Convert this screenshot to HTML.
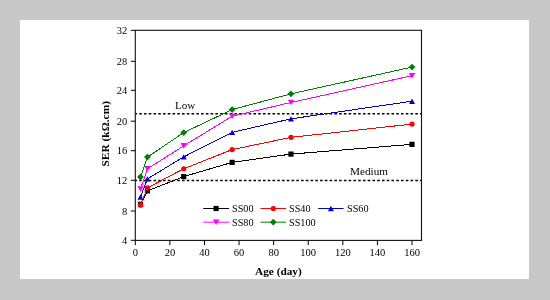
<!DOCTYPE html>
<html><head><meta charset="utf-8"><style>
html,body{margin:0;padding:0;background:#c8c8c8;width:550px;height:300px;overflow:hidden}
svg{display:block;will-change:transform}
text{font-family:"Liberation Serif",serif;fill:#000}
</style></head><body>
<svg width="550" height="300" viewBox="0 0 550 300">
<rect x="0" y="0" width="550" height="300" fill="#c8c8c8"/>
<rect x="20" y="20" width="509" height="259" fill="#ffffff"/>
<line x1="135.3" y1="113.70" x2="421.5" y2="113.70" stroke="#000" stroke-width="1.4" stroke-dasharray="2.6 2.16" stroke-dashoffset="0.87"/>
<line x1="135.3" y1="180.50" x2="421.5" y2="180.50" stroke="#000" stroke-width="1.4" stroke-dasharray="2.6 2.16" stroke-dashoffset="0.87"/>
<polyline points="140.49,204.31 147.41,190.87 183.72,176.62 232.15,162.36 290.95,154.10 412.00,144.35" fill="none" stroke="#000000" stroke-width="1.0" shape-rendering="crispEdges"/>
<rect x="137.89" y="201.71" width="5.20" height="5.20" fill="#000000"/>
<rect x="144.81" y="188.27" width="5.20" height="5.20" fill="#000000"/>
<rect x="181.12" y="174.02" width="5.20" height="5.20" fill="#000000"/>
<rect x="229.55" y="159.76" width="5.20" height="5.20" fill="#000000"/>
<rect x="288.35" y="151.50" width="5.20" height="5.20" fill="#000000"/>
<rect x="409.40" y="141.75" width="5.20" height="5.20" fill="#000000"/>
<polyline points="140.49,205.21 147.41,187.87 183.72,168.74 232.15,149.60 290.95,137.37 412.00,124.09" fill="none" stroke="#ff0000" stroke-width="1.0" shape-rendering="crispEdges"/>
<circle cx="140.49" cy="205.21" r="2.6" fill="#ff0000"/>
<circle cx="147.41" cy="187.87" r="2.6" fill="#ff0000"/>
<circle cx="183.72" cy="168.74" r="2.6" fill="#ff0000"/>
<circle cx="232.15" cy="149.60" r="2.6" fill="#ff0000"/>
<circle cx="290.95" cy="137.37" r="2.6" fill="#ff0000"/>
<circle cx="412.00" cy="124.09" r="2.6" fill="#ff0000"/>
<polyline points="140.49,197.03 147.41,178.87 183.72,156.88 232.15,132.34 290.95,118.84 412.00,101.20" fill="none" stroke="#0000cc" stroke-width="1.0" shape-rendering="crispEdges"/>
<polygon points="140.49,194.33 143.49,199.73 137.49,199.73" fill="#0000cc"/>
<polygon points="147.41,176.17 150.41,181.57 144.41,181.57" fill="#0000cc"/>
<polygon points="183.72,154.18 186.72,159.58 180.72,159.58" fill="#0000cc"/>
<polygon points="232.15,129.64 235.15,135.04 229.15,135.04" fill="#0000cc"/>
<polygon points="290.95,116.14 293.95,121.54 287.95,121.54" fill="#0000cc"/>
<polygon points="412.00,98.50 415.00,103.90 409.00,103.90" fill="#0000cc"/>
<polyline points="140.49,189.00 147.41,168.74 183.72,145.85 232.15,116.21 290.95,102.48 412.00,75.69" fill="none" stroke="#ff00ff" stroke-width="1.0" shape-rendering="crispEdges"/>
<polygon points="140.49,191.80 143.69,186.20 137.29,186.20" fill="#ff00ff"/>
<polygon points="147.41,171.54 150.61,165.94 144.21,165.94" fill="#ff00ff"/>
<polygon points="183.72,148.65 186.92,143.05 180.52,143.05" fill="#ff00ff"/>
<polygon points="232.15,119.01 235.35,113.41 228.95,113.41" fill="#ff00ff"/>
<polygon points="290.95,105.28 294.15,99.68 287.75,99.68" fill="#ff00ff"/>
<polygon points="412.00,78.49 415.20,72.89 408.80,72.89" fill="#ff00ff"/>
<polyline points="140.49,176.99 147.41,157.11 183.72,132.57 232.15,109.61 290.95,93.85 412.00,67.06" fill="none" stroke="#008000" stroke-width="1.0" shape-rendering="crispEdges"/>
<polygon points="140.49,173.59 143.89,176.99 140.49,180.39 137.09,176.99" fill="#008000"/>
<polygon points="147.41,153.71 150.81,157.11 147.41,160.51 144.01,157.11" fill="#008000"/>
<polygon points="183.72,129.17 187.12,132.57 183.72,135.97 180.32,132.57" fill="#008000"/>
<polygon points="232.15,106.21 235.55,109.61 232.15,113.01 228.75,109.61" fill="#008000"/>
<polygon points="290.95,90.45 294.35,93.85 290.95,97.25 287.55,93.85" fill="#008000"/>
<polygon points="412.00,63.66 415.40,67.06 412.00,70.46 408.60,67.06" fill="#008000"/>
<rect x="135.3" y="30.3" width="286.20" height="210.10" fill="none" stroke="#111" stroke-width="1.1"/>
<line x1="130.80" y1="240.30" x2="135.3" y2="240.30" stroke="#000" stroke-width="1"/>
<g transform="translate(127.30,243.90) scale(0.1)"><text x="0" y="0" font-size="105.0" text-anchor="end">4</text></g>
<line x1="130.80" y1="211.00" x2="135.3" y2="211.00" stroke="#000" stroke-width="1"/>
<g transform="translate(127.30,214.60) scale(0.1)"><text x="0" y="0" font-size="105.0" text-anchor="end">8</text></g>
<line x1="130.80" y1="180.30" x2="135.3" y2="180.30" stroke="#000" stroke-width="1"/>
<g transform="translate(127.30,183.90) scale(0.1)"><text x="0" y="0" font-size="105.0" text-anchor="end">12</text></g>
<line x1="130.80" y1="150.70" x2="135.3" y2="150.70" stroke="#000" stroke-width="1"/>
<g transform="translate(127.30,154.30) scale(0.1)"><text x="0" y="0" font-size="105.0" text-anchor="end">16</text></g>
<line x1="130.80" y1="121.20" x2="135.3" y2="121.20" stroke="#000" stroke-width="1"/>
<g transform="translate(127.30,124.80) scale(0.1)"><text x="0" y="0" font-size="105.0" text-anchor="end">20</text></g>
<line x1="130.80" y1="90.30" x2="135.3" y2="90.30" stroke="#000" stroke-width="1"/>
<g transform="translate(127.30,93.90) scale(0.1)"><text x="0" y="0" font-size="105.0" text-anchor="end">24</text></g>
<line x1="130.80" y1="61.30" x2="135.3" y2="61.30" stroke="#000" stroke-width="1"/>
<g transform="translate(127.30,64.90) scale(0.1)"><text x="0" y="0" font-size="105.0" text-anchor="end">28</text></g>
<line x1="130.80" y1="30.30" x2="135.3" y2="30.30" stroke="#000" stroke-width="1"/>
<g transform="translate(127.30,33.90) scale(0.1)"><text x="0" y="0" font-size="105.0" text-anchor="end">32</text></g>
<line x1="135.30" y1="240.4" x2="135.30" y2="245.20" stroke="#000" stroke-width="1"/>
<g transform="translate(135.30,255.90) scale(0.1)"><text x="0" y="0" font-size="105.0" text-anchor="middle">0</text></g>
<line x1="169.89" y1="240.4" x2="169.89" y2="245.20" stroke="#000" stroke-width="1"/>
<g transform="translate(169.89,255.90) scale(0.1)"><text x="0" y="0" font-size="105.0" text-anchor="middle">20</text></g>
<line x1="204.48" y1="240.4" x2="204.48" y2="245.20" stroke="#000" stroke-width="1"/>
<g transform="translate(204.48,255.90) scale(0.1)"><text x="0" y="0" font-size="105.0" text-anchor="middle">40</text></g>
<line x1="239.06" y1="240.4" x2="239.06" y2="245.20" stroke="#000" stroke-width="1"/>
<g transform="translate(239.06,255.90) scale(0.1)"><text x="0" y="0" font-size="105.0" text-anchor="middle">60</text></g>
<line x1="273.65" y1="240.4" x2="273.65" y2="245.20" stroke="#000" stroke-width="1"/>
<g transform="translate(273.65,255.90) scale(0.1)"><text x="0" y="0" font-size="105.0" text-anchor="middle">80</text></g>
<line x1="308.24" y1="240.4" x2="308.24" y2="245.20" stroke="#000" stroke-width="1"/>
<g transform="translate(308.24,255.90) scale(0.1)"><text x="0" y="0" font-size="105.0" text-anchor="middle">100</text></g>
<line x1="342.83" y1="240.4" x2="342.83" y2="245.20" stroke="#000" stroke-width="1"/>
<g transform="translate(342.83,255.90) scale(0.1)"><text x="0" y="0" font-size="105.0" text-anchor="middle">120</text></g>
<line x1="377.42" y1="240.4" x2="377.42" y2="245.20" stroke="#000" stroke-width="1"/>
<g transform="translate(377.42,255.90) scale(0.1)"><text x="0" y="0" font-size="105.0" text-anchor="middle">140</text></g>
<line x1="412.00" y1="240.4" x2="412.00" y2="245.20" stroke="#000" stroke-width="1"/>
<g transform="translate(412.00,255.90) scale(0.1)"><text x="0" y="0" font-size="105.0" text-anchor="middle">160</text></g>
<g transform="translate(185.20,108.60) scale(0.1)"><text x="0" y="0" font-size="111.0" text-anchor="middle">Low</text></g>
<g transform="translate(369.00,175.00) scale(0.1)"><text x="0" y="0" font-size="112.0" text-anchor="middle">Medium</text></g>
<g transform="translate(255.00,275.00) scale(0.1)"><text x="0" y="0" font-size="113.0" font-weight="bold">Age (day)</text></g>
<g transform="translate(109.40,166.50) rotate(-90) scale(0.1)"><text x="0" y="0" font-size="114.0" font-weight="bold">SER (kΩ.cm)</text></g>
<line x1="203.2" y1="208.5" x2="229" y2="208.5" stroke="#000000" stroke-width="1"/>
<rect x="213.50" y="205.90" width="5.20" height="5.20" fill="#000000"/>
<g transform="translate(232.00,212.30) scale(0.1)"><text x="0" y="0" font-size="102.0">SS00</text></g>
<line x1="260.5" y1="208.5" x2="286" y2="208.5" stroke="#ff0000" stroke-width="1"/>
<circle cx="273.25" cy="208.50" r="2.6" fill="#ff0000"/>
<g transform="translate(289.00,212.30) scale(0.1)"><text x="0" y="0" font-size="102.0">SS40</text></g>
<line x1="318.2" y1="208.5" x2="343.6" y2="208.5" stroke="#0000cc" stroke-width="1"/>
<polygon points="330.90,205.80 333.90,211.20 327.90,211.20" fill="#0000cc"/>
<g transform="translate(347.00,212.30) scale(0.1)"><text x="0" y="0" font-size="102.0">SS60</text></g>
<line x1="203.2" y1="222.2" x2="229" y2="222.2" stroke="#ff00ff" stroke-width="1"/>
<polygon points="216.10,225.00 219.30,219.40 212.90,219.40" fill="#ff00ff"/>
<g transform="translate(232.00,226.00) scale(0.1)"><text x="0" y="0" font-size="102.0">SS80</text></g>
<line x1="260.5" y1="222.2" x2="286" y2="222.2" stroke="#008000" stroke-width="1"/>
<polygon points="273.25,218.80 276.65,222.20 273.25,225.60 269.85,222.20" fill="#008000"/>
<g transform="translate(289.00,226.00) scale(0.1)"><text x="0" y="0" font-size="102.0">SS100</text></g>
</svg></body></html>
